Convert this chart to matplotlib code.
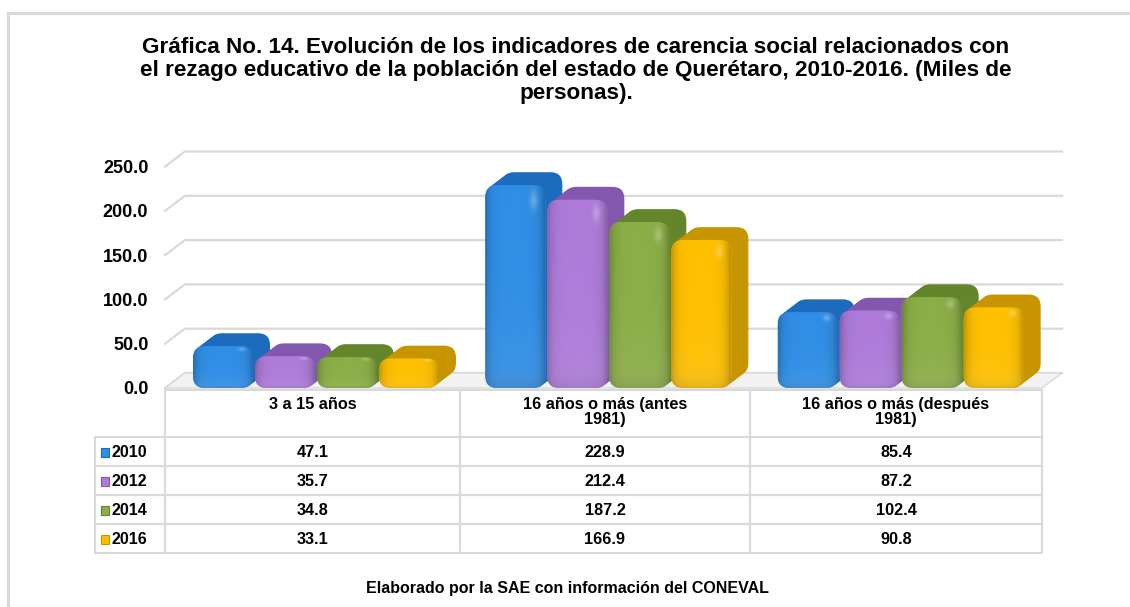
import matplotlib
matplotlib.use("Agg")
import matplotlib.pyplot as plt
import numpy as np
from matplotlib.patches import FancyBboxPatch, Polygon, Rectangle
from matplotlib.lines import Line2D
from matplotlib.colors import to_rgb

plt.rcParams["font.family"] = ["Liberation Sans", "DejaVu Sans"]

# data
categories = ["3 a 15 años", "16 años o más (antes\n1981)", "16 años o más (después\n1981)"]
years = ["2010", "2012", "2014", "2016"]
v2010 = [47.1, 228.9, 85.4]
v2012 = [35.7, 212.4, 87.2]
v2014 = [34.8, 187.2, 102.4]
v2016 = [33.1, 166.9, 90.8]
series = [v2010, v2012, v2014, v2016]
yticks = [0, 50, 100, 150, 200, 250]

front_colors = ["#2F8EE6", "#AE7BDA", "#8BAE47", "#FFC000"]
side_colors = ["#1C6BBE", "#8457AE", "#64862A", "#C79500"]

title = ("Gráfica No. 14. Evolución de los indicadores de carencia social relacionados con\n"
         "el rezago educativo de la población del estado de Querétaro, 2010-2016. (Miles de\n"
         "personas).")
footer = "Elaborado por la SAE con información del CONEVAL"

# layout in pixels
W, H = 1130, 607
def fx(px):
    return px / W
def fy(py):
    return 1 - py / H

plot_left, plot_right = 165, 1042
y0_px, y250_px = 388, 166.5

fig = plt.figure(figsize=(W / 100, H / 100), dpi=100)

# outer frame
fig.add_artist(Line2D([fx(8), 1.0], [fy(13), fy(13)], color="#D9D9D9", lw=2.2))
fig.add_artist(Line2D([fx(8), fx(8)], [fy(13), 0.0], color="#D9D9D9", lw=2.2))

ax = fig.add_axes([fx(plot_left), fy(y0_px), (plot_right - plot_left) / W, (y0_px - y250_px) / H])
ax.set_xlim(0, len(categories))
ax.set_ylim(0, 250)
for s in ax.spines.values():
    s.set_visible(False)
ax.set_xticks([])
ax.set_yticks(yticks)
ax.set_yticklabels([f"{v:.1f}" for v in yticks], fontsize=13, fontweight="bold")
ax.tick_params(axis="y", length=0, pad=12)

ppx = (plot_right - plot_left) / len(categories)   # px per x unit
ppy = (y0_px - y250_px) / 250                       # px per y unit
gdx, gdy = 20 / ppx, 15 / ppy                      # wall depth
bdx, bdy = 17 / ppx, 13 / ppy                      # bar depth

# back wall gridlines + left slant
for v in yticks:
    ax.plot([0, gdx, len(categories) + gdx], [v, v + gdy, v + gdy],
            color="#D9D9D9", lw=1.6, zorder=0.5, clip_on=False)

# floor
ax.add_patch(Polygon([(0, 0), (len(categories), 0), (len(categories) + gdx, gdy), (gdx, gdy)],
                     closed=True, facecolor="#F2F2F2", edgecolor="#D9D9D9", lw=1.0,
                     zorder=0.8, clip_on=False))

# bars
off = 28 / ppx
step = 62 / ppx
bw = 60 / ppx
rad = 12 / ppx
asp = ppx / ppy

def shade(color, ny=80, nx=40):
    base = np.array(to_rgb(color))
    xs = np.linspace(0, 1, nx)
    ys = np.linspace(0, 1, ny)
    X, Y = np.meshgrid(xs, ys)
    f = 1.0 - 0.22 * np.exp(-X / 0.08) - 0.25 * np.exp(-(1 - X) / 0.08)
    f = f - 0.12 * np.exp(-Y / 0.05)
    light = 0.28 * np.exp(-((X - 0.82) ** 2) / 0.004 - ((Y - 0.93) ** 2) / 0.002)
    img = base * f[..., None]
    img = img + (1 - img) * light[..., None]
    img = img + (1 - img) * (0.18 * np.exp(-Y / 0.25))[..., None] * 0.6
    return np.clip(img, 0, 1)

nsteps = 10
z = 2
for i in range(len(categories)):
    for j, vals in enumerate(series):
        h = vals[i]
        x0 = i + off + j * step
        for k in range(nsteps, 0, -1):
            t = k / nsteps
            p = FancyBboxPatch((x0 + t * bdx, t * bdy), bw, h,
                               boxstyle=f"round,pad=0,rounding_size={rad}",
                               mutation_aspect=asp, facecolor=side_colors[j],
                               edgecolor="none", zorder=z, clip_on=False)
            ax.add_patch(p)
        front = FancyBboxPatch((x0, 0), bw, h,
                               boxstyle=f"round,pad=0,rounding_size={rad}",
                               mutation_aspect=asp, facecolor=front_colors[j],
                               edgecolor="none", zorder=z + 0.1, clip_on=False)
        ax.add_patch(front)
        im = ax.imshow(shade(front_colors[j]), extent=[x0, x0 + bw, 0, h], origin="lower",
                       aspect="auto", interpolation="bilinear", zorder=z + 0.2)
        im.set_clip_path(front)
        z += 0.5

ax.set_xlim(0, len(categories))
ax.set_ylim(0, 250)
ax.set_aspect("auto")

# data table
col_edges = [95, plot_left, 460, 750, plot_right]
row_edges = [390, 437, 466, 495, 524, 553]
tax = fig.add_axes([fx(col_edges[0]), fy(row_edges[-1]),
                    (col_edges[-1] - col_edges[0]) / W, (row_edges[-1] - row_edges[0]) / H])
tax.set_xlim(col_edges[0], col_edges[-1])
tax.set_ylim(row_edges[-1], row_edges[0])
tax.axis("off")
gc = "#D9D9D9"
for c in range(len(col_edges) - 1):
    for r in range(len(row_edges) - 1):
        if r == 0 and c == 0:
            continue
        tax.add_patch(Rectangle((col_edges[c], row_edges[r]), col_edges[c + 1] - col_edges[c],
                                row_edges[r + 1] - row_edges[r], facecolor="none",
                                edgecolor=gc, lw=1.5, clip_on=False))
for c, cat in enumerate(categories):
    xc = (col_edges[c + 1] + col_edges[c + 2]) / 2
    tax.text(xc, row_edges[0] + 7, cat, ha="center", va="top", fontsize=11.7,
             fontweight="bold", linespacing=1.0)
for r, (yr, vals) in enumerate(zip(years, series)):
    yc = (row_edges[r + 1] + row_edges[r + 2]) / 2
    tax.add_patch(Rectangle((101, yc - 3.5), 8, 9, facecolor=front_colors[r],
                            edgecolor=side_colors[r], lw=0.8))
    tax.text(112, yc + 1, yr, ha="left", va="center", fontsize=11.5, fontweight="bold")
    for c, v in enumerate(vals):
        xc = (col_edges[c + 1] + col_edges[c + 2]) / 2
        tax.text(xc, yc + 1, f"{v:.1f}", ha="center", va="center", fontsize=11.7,
                 fontweight="bold")

fig.text(fx(576), fy(37), title, ha="center", va="top", fontsize=16.2,
         fontweight="bold", linespacing=1.12)
fig.text(fx(567), fy(593), footer, ha="center", va="baseline", fontsize=11.5,
         fontweight="bold")

fig.savefig("out.png", dpi=100)
